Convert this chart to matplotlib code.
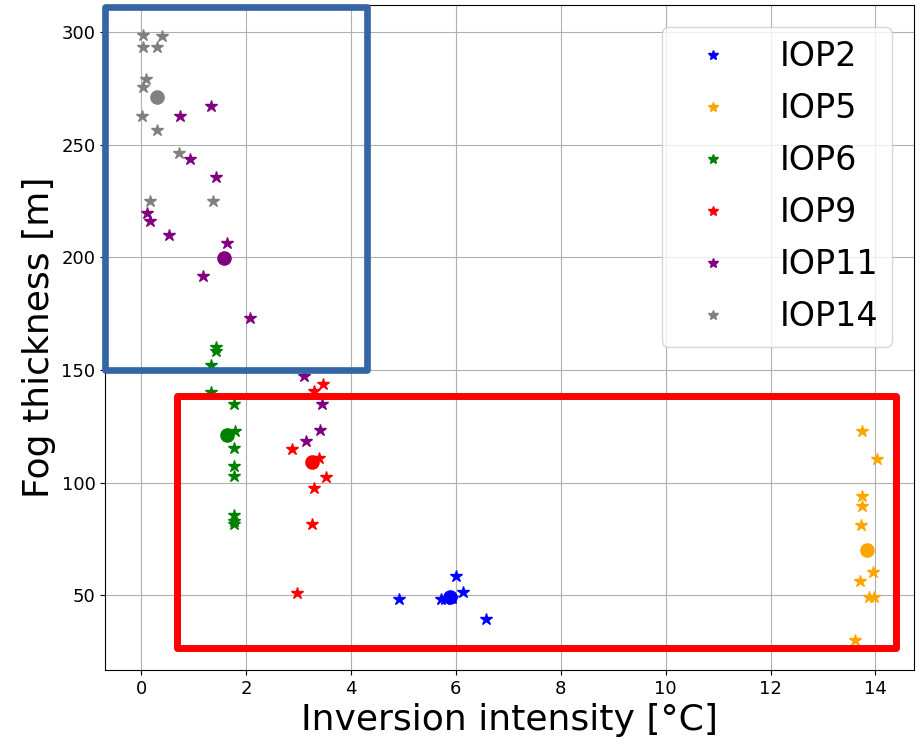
import matplotlib
matplotlib.use("Agg")
from matplotlib import pyplot as plt
from matplotlib.patches import Rectangle

# inversion intensity [°C] and fog thickness [m] per IOP
iop2_x = [4.92, 6.01, 6.13, 5.72, 5.80, 5.92, 6.58]
iop2_y = [48.3, 58.4, 51.7, 48.2, 48.6, 49.0, 39.5]
iop5_x = [13.75, 14.03, 13.75, 13.75, 13.73, 13.95, 13.70, 13.87, 13.98, 13.62]
iop5_y = [123.0, 110.5, 93.9, 89.5, 81.2, 60.6, 56.2, 49.5, 49.5, 30.3]
iop6_x = [1.42, 1.42, 1.33, 1.33, 1.77, 1.79, 1.77, 1.77, 1.77, 1.77, 1.77, 1.77]
iop6_y = [160.0, 158.5, 152.2, 140.1, 134.9, 123.1, 115.2, 107.5, 102.8, 85.5, 83.0, 81.5]
iop9_x = [3.47, 3.30, 2.87, 3.39, 3.52, 3.30, 3.25, 2.97]
iop9_y = [143.8, 140.8, 114.9, 110.8, 102.6, 97.5, 81.6, 51.0]
iop11_x = [1.33, 0.73, 0.92, 1.43, 0.11, 0.16, 0.53, 1.63, 1.17, 2.08, 3.10, 3.44, 3.40, 3.14]
iop11_y = [267.3, 262.9, 243.6, 235.5, 219.7, 216.2, 209.9, 206.2, 191.6, 172.9, 147.5, 134.9, 123.5, 118.6]
iop14_x = [0.04, 0.39, 0.04, 0.30, 0.08, 0.04, 0.01, 0.30, 0.71, 0.16, 1.37]
iop14_y = [298.4, 298.1, 293.2, 293.2, 279.1, 275.5, 262.9, 256.5, 246.3, 224.9, 224.9]

# mean of each IOP (circle markers)
mean_x = [5.89, 13.84, 1.64, 3.25, 1.58, 0.30]
mean_y = [49.1, 70.2, 121.1, 109.0, 199.7, 271.0]

labels = ["IOP2", "IOP5", "IOP6", "IOP9", "IOP11", "IOP14"]
colors = ["blue", "orange", "green", "red", "purple", "gray"]
xs = [iop2_x, iop5_x, iop6_x, iop9_x, iop11_x, iop14_x]
ys = [iop2_y, iop5_y, iop6_y, iop9_y, iop11_y, iop14_y]

fig = plt.figure(figsize=(9.22, 7.52), dpi=100)
ax = fig.add_axes([0.114, 0.109, 0.877, 0.884])

for x, y, lab, c in zip(xs, ys, labels, colors):
    ax.plot(x, y, "*", color=c, markersize=9, label=lab)
for mx, my, c in zip(mean_x, mean_y, colors):
    ax.plot(mx, my, "o", color=c, markersize=9.5)

ax.grid(True)
ax.tick_params(labelsize=13)
ax.set_xlabel("Inversion intensity [°C]", fontsize=26)
ax.set_ylabel("Fog thickness [m]", fontsize=26)
ax.legend(loc="upper right", fontsize=24, markerscale=0.85, labelspacing=0.57,
          handlelength=2.25, handletextpad=0.9, borderaxespad=0.65)

# highlight boxes, in figure pixels (x0, y0 from top, x1, y1)
W, H = 922, 752
def box(x0, y0, x1, y1, color, lw):
    r = Rectangle((x0 / W, 1 - y1 / H), (x1 - x0) / W, (y1 - y0) / H,
                  transform=fig.transFigure, fill=False, edgecolor=color,
                  linewidth=lw, joinstyle="round", zorder=10)
    fig.patches.append(r)

box(105, 6.7, 366.7, 370, "#3465a4", 4.8)
box(177, 396.3, 896.3, 648.3, "#ff0000", 5.0)

fig.savefig("out.png", dpi=100)
